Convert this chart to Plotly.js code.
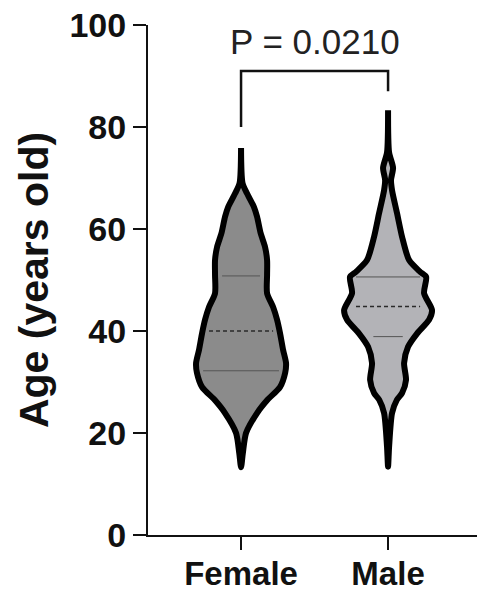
<!DOCTYPE html>
<html>
<head>
<meta charset="utf-8">
<script src="https://cdn.plot.ly/plotly-3.0.1.min.js"></script>
<style>html,body{margin:0;padding:0;background:#fff;}#chart{width:477px;height:596px;}</style>
</head>
<body>
<div id="chart"></div>
<script>
// Categories and positions on the category axis
const categories = ["Female", "Male"];
// Violin outlines: age values and the half-width of the density at each age (x-axis units)
const femaleAge =   [13.3, 16.0, 20.0, 23.9, 26.5, 29.0, 31.8, 33.7, 36.3, 39.6, 42.2, 44.7, 47.4, 51.0, 53.9, 56.5, 59.2, 62.4, 64.3, 67.0, 69.0, 75.9];
const femaleWidth = [0.0, 0.012, 0.034, 0.109, 0.180, 0.265, 0.300, 0.306, 0.286, 0.265, 0.245, 0.218, 0.177, 0.177, 0.177, 0.163, 0.133, 0.109, 0.088, 0.040, 0.010, 0.0];
const maleAge =   [13.4, 17.3, 23.9, 26.5, 27.8, 30.4, 33.7, 36.9, 39.5, 42.2, 44.1, 47.4, 50.6, 51.6, 53.9, 58.5, 63.1, 67.6, 69.6, 72.0, 75.0, 83.3];
const maleWidth = [0.0, 0.007, 0.027, 0.060, 0.095, 0.122, 0.109, 0.136, 0.197, 0.279, 0.299, 0.245, 0.259, 0.218, 0.143, 0.095, 0.061, 0.027, 0.020, 0.034, 0.007, 0.0];
// Quartiles (Q1, median, Q3) and the visible half-length of each line
const femaleQuart = [32.2, 40.0, 50.8];
const femaleQuartHalf = [0.258, 0.218, 0.129];
const maleQuart = [38.9, 44.8, 50.6];
const maleQuartHalf = [0.100, 0.218, 0.218];
// Significance bracket
const pText = "P = 0.0210";
const bracketY = 91;
const bracketLegs = [80, 87];
const yTicks = [0, 20, 40, 60, 80, 100];

const fillColors = ["#8b8b8b", "#b3b3b7"];
const FONT = "Liberation Sans, Arial, Helvetica, sans-serif";

function violinTrace(center, ages, widths, color) {
  const xs = [], ys = [];
  for (let i = 0; i < ages.length; i++) { xs.push(center + widths[i]); ys.push(ages[i]); }
  for (let i = ages.length - 1; i >= 0; i--) { xs.push(center - widths[i]); ys.push(ages[i]); }
  return {
    type: "scatter", mode: "lines", x: xs, y: ys, fill: "toself", fillcolor: color,
    line: {color: "#000", width: 6, shape: "spline", smoothing: 0.7},
    hoverinfo: "skip", showlegend: false
  };
}
function quartTraces(center, q, h) {
  const out = [];
  for (let i = 0; i < q.length; i++) {
    out.push({
      type: "scatter", mode: "lines",
      x: [center - h[i], center + h[i]], y: [q[i], q[i]],
      line: {color: i === 1 ? "#2a2a2a" : "#555", width: i === 1 ? 1.5 : 1, dash: i === 1 ? "4px,3px" : "solid"},
      hoverinfo: "skip", showlegend: false
    });
  }
  return out;
}

const traces = [
  violinTrace(0, femaleAge, femaleWidth, fillColors[0]),
  violinTrace(1, maleAge, maleWidth, fillColors[1]),
  ...quartTraces(0, femaleQuart, femaleQuartHalf),
  ...quartTraces(1, maleQuart, maleQuartHalf),
  {
    type: "scatter", mode: "lines",
    x: [0, 0, 1, 1], y: [bracketLegs[0], bracketY, bracketY, bracketLegs[1]],
    line: {color: "#111", width: 2.5}, hoverinfo: "skip", showlegend: false
  }
];

const layout = {
  width: 477, height: 596,
  margin: {l: 148, r: 0, t: 25, b: 61},
  paper_bgcolor: "#fff", plot_bgcolor: "#fff",
  showlegend: false,
  font: {family: FONT, color: "#111"},
  xaxis: {
    range: [-0.633, 1.605], tickvals: [0, 1], ticktext: categories,
    showgrid: false, zeroline: false, showline: true, linecolor: "#111", linewidth: 2,
    ticks: "outside", ticklen: 13, tickwidth: 2, tickcolor: "#111",
    ticklabelstandoff: -5,
    tickfont: {family: FONT, size: 33, weight: "bold", color: "#111"}
  },
  yaxis: {
    range: [0, 100], tickvals: yTicks,
    showgrid: false, zeroline: false, showline: true, linecolor: "#111", linewidth: 2,
    ticks: "outside", ticklen: 13, tickwidth: 2, tickcolor: "#111",
    tickfont: {family: FONT, size: 34, weight: "bold", color: "#111"},
    title: {text: "Age (years old)", font: {family: FONT, size: 41, weight: "bold", color: "#111"}, standoff: 8}
  },
  annotations: [{
    x: 0.5, y: 96.7, xref: "x", yref: "y", text: pText, showarrow: false,
    font: {family: FONT, size: 35, color: "#222"}
  }]
};

Plotly.newPlot("chart", traces, layout, {displayModeBar: false, staticPlot: true});
</script>
</body>
</html>
